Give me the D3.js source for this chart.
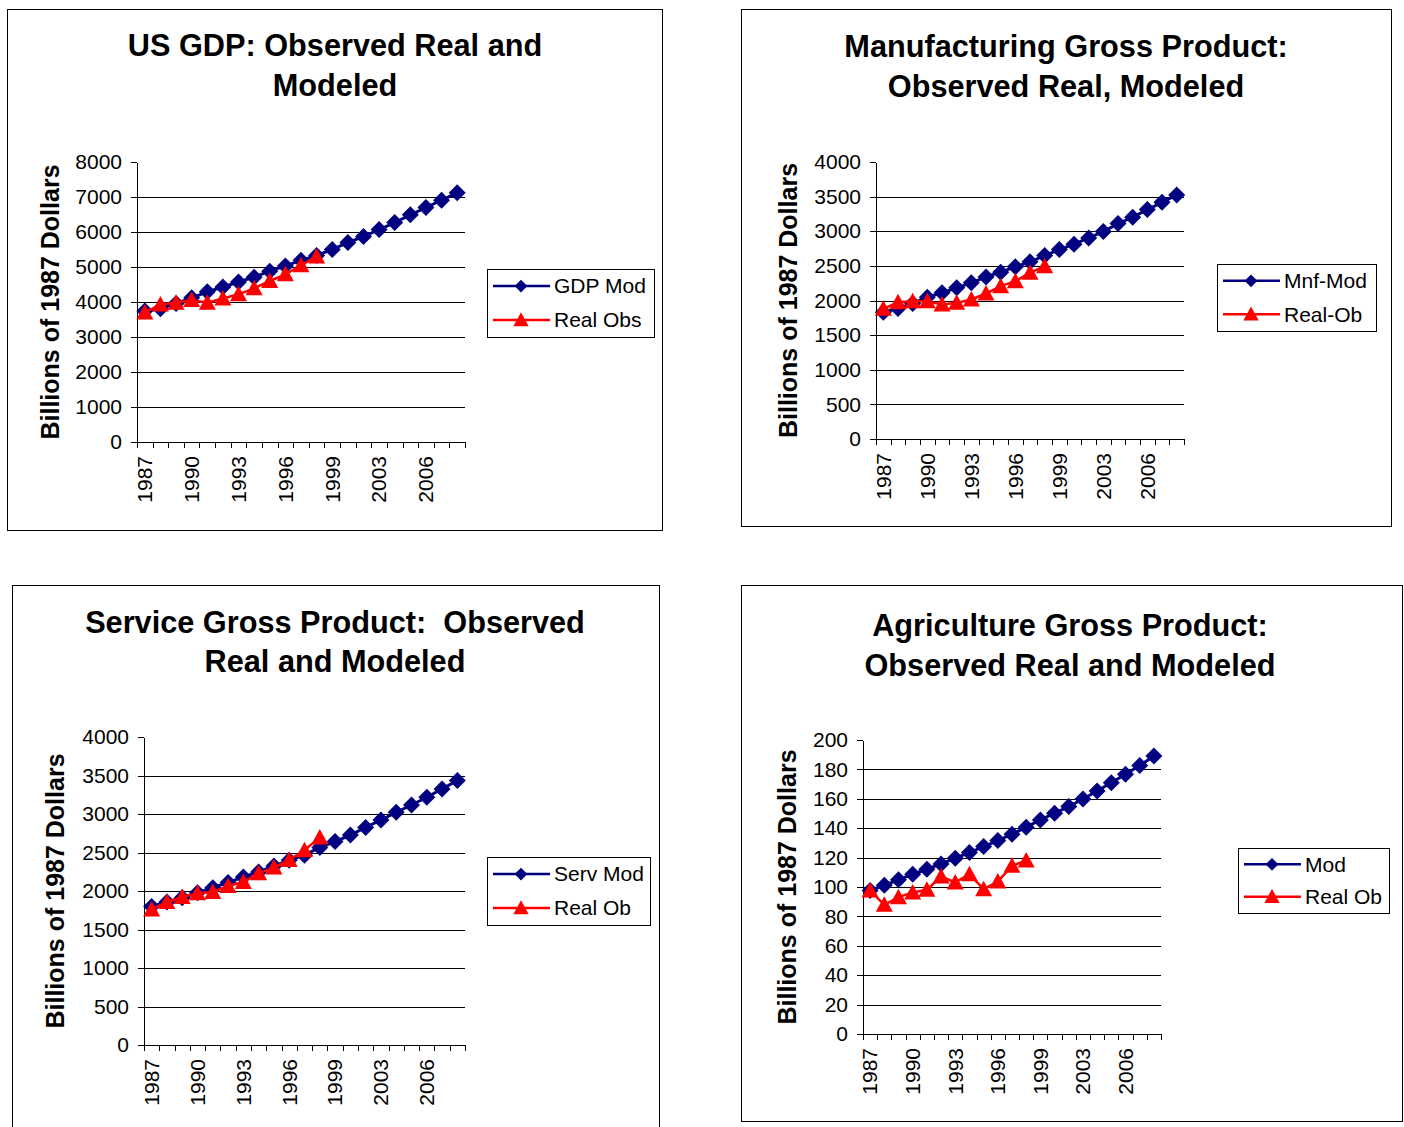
<!DOCTYPE html>
<html>
<head>
<meta charset="utf-8">
<script src="https://cdn.jsdelivr.net/npm/d3@7"></script>
<style>
  body { margin: 0; background: #fff; }
  svg text { font-family: "Liberation Sans", Arial, sans-serif; fill: #000; }
</style>
</head>
<body>
<svg id="chart" width="1404" height="1127"></svg>
<script>
// categories (one year is missing between 1999 and 2003 in the source sheet)
const years = ['1987','1988','1989','1990','1991','1992','1993','1994','1995','1996','1997',
  '1998','1999','2001','2002','2003','2004','2005','2006','2007','2008'];
const yearLabels = ['1987','1990','1993','1996','1999','2003','2006'];

// US GDP
const gdpMod = [3740, 3810, 3960, 4120, 4290, 4430, 4570, 4710, 4880, 5030, 5190,
  5330, 5500, 5700, 5870, 6070, 6270, 6490, 6700, 6910, 7120];
const gdpObs = [3700, 3930, 3980, 4060, 3980, 4100, 4220, 4390, 4600, 4790, 5050, 5300];

// Manufacturing
const mnfMod = [1830, 1885, 1957, 2048, 2111, 2183, 2255, 2341, 2409, 2486, 2558,
  2649, 2736, 2813, 2904, 2995, 3111, 3202, 3313, 3418, 3524];
const mnfObs = [1880, 1976, 1990, 1990, 1942, 1966, 2014, 2101, 2207, 2279, 2399, 2495];

// Services
const servMod = [1800, 1857, 1913, 1978, 2043, 2109, 2183, 2248, 2326, 2400, 2465,
  2565, 2643, 2726, 2826, 2922, 3022, 3117, 3217, 3326, 3435];
const servObs = [1761, 1857, 1922, 1970, 1987, 2065, 2117, 2230, 2304, 2404, 2530, 2696];

// Agriculture
const agrMod = [97.6, 101.2, 104.9, 108.7, 112.1, 115.7, 119.6, 123.4, 127.5, 131.6, 135.9,
  140.7, 145.6, 150.2, 154.7, 159.9, 165.3, 171.0, 176.7, 182.6, 189.1];
const agrObs = [97.6, 87.9, 93.1, 96.3, 98.1, 107.1, 103.1, 108.7, 98.5, 103.7, 114.4, 118.0];

const yTitle = 'Billions of 1987 Dollars';

const panels = [
  { title: ['US GDP: Observed Real and', 'Modeled'], mod: gdpMod, obs: gdpObs,
    names: ['GDP Mod', 'Real Obs'], yMax: 8000, yStep: 1000,
    box: [7, 9, 662, 530], plot: [137, 162, 465, 442], titleX: 335, titleY: [56, 96],
    yTitleX: 50, legend: [487, 269, 654, 337] },
  { title: ['Manufacturing Gross Product:', 'Observed Real, Modeled'], mod: mnfMod, obs: mnfObs,
    names: ['Mnf-Mod', 'Real-Ob'], yMax: 4000, yStep: 500,
    box: [741, 9, 1391, 526], plot: [876, 162, 1184, 439], titleX: 1066, titleY: [57, 97],
    yTitleX: 788, legend: [1217, 264, 1376, 331] },
  { title: ['Service Gross Product:  Observed', 'Real and Modeled'], mod: servMod, obs: servObs,
    names: ['Serv Mod', 'Real Ob'], yMax: 4000, yStep: 500,
    box: [12, 585, 659, 1140], plot: [144, 737, 465, 1045], titleX: 335, titleY: [633, 672],
    yTitleX: 55, legend: [487, 857, 650, 925] },
  { title: ['Agriculture Gross Product:', 'Observed Real and Modeled'], mod: agrMod, obs: agrObs,
    names: ['Mod', 'Real Ob'], yMax: 200, yStep: 20,
    box: [741, 585, 1402, 1121], plot: [863, 740, 1161, 1034], titleX: 1070, titleY: [636, 676],
    yTitleX: 787, legend: [1238, 848, 1389, 913] }
];

const navy = '#000080';
const red = '#ff0000';
const diamond = 'M0,-8.5L8.5,0L0,8.5L-8.5,0Z';
const triangle = 'M0,-8.5L8.5,7L-8.5,7Z';

const svg = d3.select('#chart');

panels.forEach(drawPanel);

function drawPanel(p) {
  const g = svg.append('g');
  const [bx0, by0, bx1, by1] = p.box;
  const [px0, py0, px1, py1] = p.plot;

  g.append('rect')
    .attr('x', bx0 + 0.5).attr('y', by0 + 0.5)
    .attr('width', bx1 - bx0).attr('height', by1 - by0)
    .attr('fill', '#fff').attr('stroke', '#000').attr('stroke-width', 1);

  // title
  p.title.forEach((t, i) => {
    g.append('text')
      .attr('x', p.titleX).attr('y', p.titleY[i])
      .attr('text-anchor', 'middle')
      .style('font-size', '30.7px').style('font-weight', 'bold')
      .style('white-space', 'pre')
      .text(t);
  });

  const x = d3.scaleBand().domain(years).range([px0, px1]).padding(0);
  const xEdge = d3.scaleLinear().domain([0, years.length]).range([px0, px1]);
  const y = d3.scaleLinear().domain([0, p.yMax]).range([py1, py0]);
  const yTicks = d3.range(0, p.yMax + p.yStep / 2, p.yStep);

  // gridlines
  const grid = g.append('g')
    .attr('transform', `translate(${px0},0)`)
    .call(d3.axisLeft(y).tickValues(yTicks.filter(v => v > 0 && v < p.yMax))
      .tickSize(-(px1 - px0)).tickFormat(''));
  grid.select('.domain').remove();
  grid.selectAll('line').attr('stroke', '#000').attr('shape-rendering', 'crispEdges');

  // y axis
  const ya = g.append('g')
    .attr('transform', `translate(${px0},0)`)
    .call(d3.axisLeft(y).tickValues(yTicks).tickFormat(d3.format('d'))
      .tickSize(6).tickSizeOuter(0).tickPadding(9));
  ya.select('.domain').attr('stroke', '#000').attr('shape-rendering', 'crispEdges');
  ya.selectAll('line').attr('stroke', '#000').attr('shape-rendering', 'crispEdges');
  ya.selectAll('text').style('font-size', '21px').attr('font-family', null);

  // x axis with ticks at category boundaries
  const xa = g.append('g')
    .attr('transform', `translate(0,${py1})`)
    .call(d3.axisBottom(xEdge).tickValues(d3.range(0, years.length + 1))
      .tickSize(6).tickSizeOuter(0).tickFormat(''));
  xa.select('.domain').attr('stroke', '#000').attr('shape-rendering', 'crispEdges');
  xa.selectAll('line').attr('stroke', '#000').attr('shape-rendering', 'crispEdges');

  yearLabels.forEach(yr => {
    const cx = x(yr) + x.bandwidth() / 2;
    g.append('text')
      .attr('transform', `translate(${cx},${py1 + 14}) rotate(-90)`)
      .attr('text-anchor', 'end').attr('dy', '0.35em')
      .style('font-size', '21px')
      .text(yr);
  });

  // y axis title
  g.append('text')
    .attr('transform', `translate(${p.yTitleX},${(py0 + py1) / 2}) rotate(-90)`)
    .attr('text-anchor', 'middle').attr('dy', '0.35em')
    .style('font-size', '25px').style('font-weight', 'bold')
    .text(yTitle);

  const cx = (d, i) => x(years[i]) + x.bandwidth() / 2;
  const line = d3.line().x(cx).y(d => y(d));

  // modeled series
  g.append('path').datum(p.mod)
    .attr('d', line).attr('fill', 'none')
    .attr('stroke', navy).attr('stroke-width', 3);
  g.selectAll('.dia').data(p.mod).join('path')
    .attr('class', 'dia')
    .attr('d', diamond)
    .attr('transform', (d, i) => `translate(${cx(d, i)},${y(d)})`)
    .attr('fill', navy);

  // observed series
  g.append('path').datum(p.obs)
    .attr('d', line).attr('fill', 'none')
    .attr('stroke', red).attr('stroke-width', 2.5);
  g.selectAll('.tri').data(p.obs).join('path')
    .attr('class', 'tri')
    .attr('d', triangle)
    .attr('transform', (d, i) => `translate(${cx(d, i)},${y(d)})`)
    .attr('fill', red);

  // legend
  const [lx0, ly0, lx1, ly1] = p.legend;
  const lg = g.append('g');
  lg.append('rect')
    .attr('x', lx0 + 0.5).attr('y', ly0 + 0.5)
    .attr('width', lx1 - lx0).attr('height', ly1 - ly0)
    .attr('fill', '#fff').attr('stroke', '#000').attr('stroke-width', 1);
  const entries = [
    { name: p.names[0], color: navy, shape: diamond, scale: 0.75 },
    { name: p.names[1], color: red, shape: triangle, scale: 0.9 }
  ];
  entries.forEach((e, i) => {
    const ey = ly0 + (ly1 - ly0) * (i === 0 ? 0.25 : 0.75);
    lg.append('line')
      .attr('x1', lx0 + 6).attr('x2', lx0 + 63)
      .attr('y1', ey).attr('y2', ey)
      .attr('stroke', e.color).attr('stroke-width', 2.5);
    lg.append('path')
      .attr('d', e.shape)
      .attr('transform', `translate(${lx0 + 34},${ey}) scale(${e.scale})`)
      .attr('fill', e.color);
    lg.append('text')
      .attr('x', lx0 + 67).attr('y', ey).attr('dy', '0.35em')
      .style('font-size', '21px')
      .text(e.name);
  });
}
</script>
</body>
</html>
